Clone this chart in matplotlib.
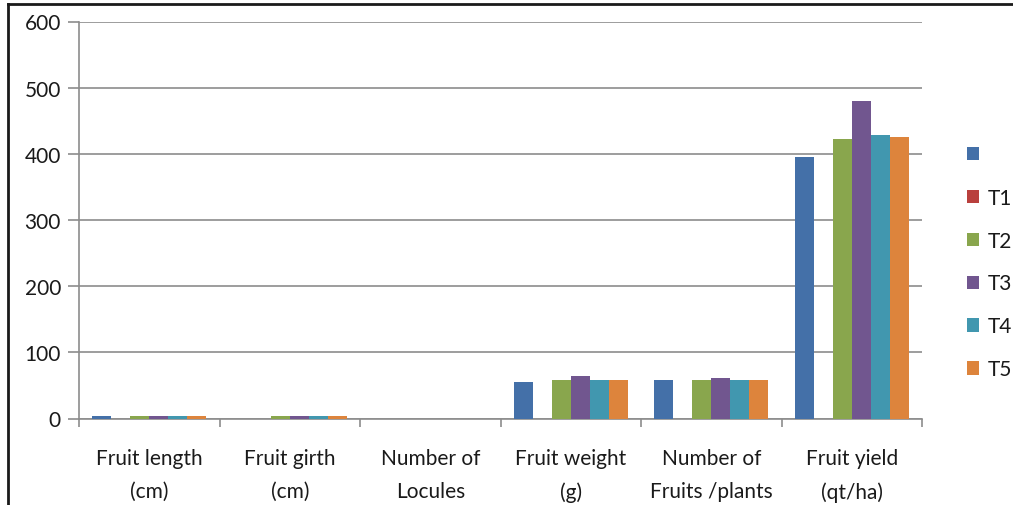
import matplotlib
matplotlib.use("Agg")
import matplotlib.pyplot as plt
from matplotlib.patches import Patch
from matplotlib.lines import Line2D
import numpy as np

categories = ["Fruit length\n(cm)", "Fruit girth\n(cm)", "Number of\nLocules",
              "Fruit weight\n(g)", "Number of\nFruits /plants", "Fruit yield\n(qt/ha)"]
series_names = ["", "T1", "T2", "T3", "T4", "T5"]
s0 = [4.5, 0, 0, 55.8, 58.3, 395]
t1 = [0, 0, 0, 0, 0, 0]
t2 = [4.5, 4, 0, 58.3, 58.3, 422.6]
t3 = [4.5, 4, 0, 64.4, 61.3, 480]
t4 = [4.5, 4, 0, 58.3, 58.3, 428]
t5 = [4.5, 4, 0, 58.3, 58.3, 425.6]
yticks = [0, 100, 200, 300, 400, 500, 600]

colors = ["#4470A8", "#B9403D", "#89A64D", "#71568F", "#4197AF", "#DD843C"]

plt.rcParams['font.family'] = ['Lato', 'DejaVu Sans']
FS = 15
TC = "#1a1a1a"
fig = plt.figure(figsize=(10.13, 5.06), dpi=100)
ax = fig.add_axes([79/1013, 1-419.5/506, (922-79)/1013, (419.5-22.5)/506])

data = [s0, t1, t2, t3, t4, t5]
n = len(data)
w = 1/7.4
x = np.arange(len(categories))
for j, (vals, c) in enumerate(zip(data, colors)):
    ax.bar(x + (j - (n-1)/2)*w, vals, width=w, color=c, zorder=3, linewidth=0)

ax.set_xlim(-0.5, len(categories)-0.5)
ax.set_ylim(0, 600)
ax.set_yticks(yticks)
ax.set_yticklabels([str(v) for v in yticks], fontsize=FS, color=TC)
ax.set_xticks(x)
ax.set_xticklabels(categories, fontsize=FS, color=TC, linespacing=1.85)
ax.tick_params(axis='x', length=0, pad=21)
ax.set_xticks(np.arange(len(categories)+1) - 0.5, minor=True)
ax.tick_params(axis='x', which='minor', length=6, color="#8c8c8c", width=1.2)
ax.tick_params(axis='y', length=8, color="#8c8c8c", width=1.2, pad=5)
ax.yaxis.grid(True, color="#8c8c8c", linewidth=1.2, zorder=0)
for s in ["top", "right"]:
    ax.spines[s].set_visible(False)
for s in ["left", "bottom"]:
    ax.spines[s].set_color("#8c8c8c")
    ax.spines[s].set_linewidth(1.2)

handles = [Patch(facecolor=c, edgecolor='none') for c in colors]
fig.legend(handles, series_names, loc='upper left', bbox_to_anchor=(948/1013, 1-127/506),
           frameon=False, fontsize=FS, handlelength=0.6, handleheight=0.6,
           handletextpad=0.4, labelspacing=1.1, labelcolor=TC)

fig.add_artist(Line2D([8/1013, 1], [1-5/506, 1-5/506], color="#1a1a1a", linewidth=2, transform=fig.transFigure))
fig.add_artist(Line2D([8/1013, 8/1013], [0, 1-5/506], color="#1a1a1a", linewidth=2, transform=fig.transFigure))

fig.savefig("out.png", dpi=100)
